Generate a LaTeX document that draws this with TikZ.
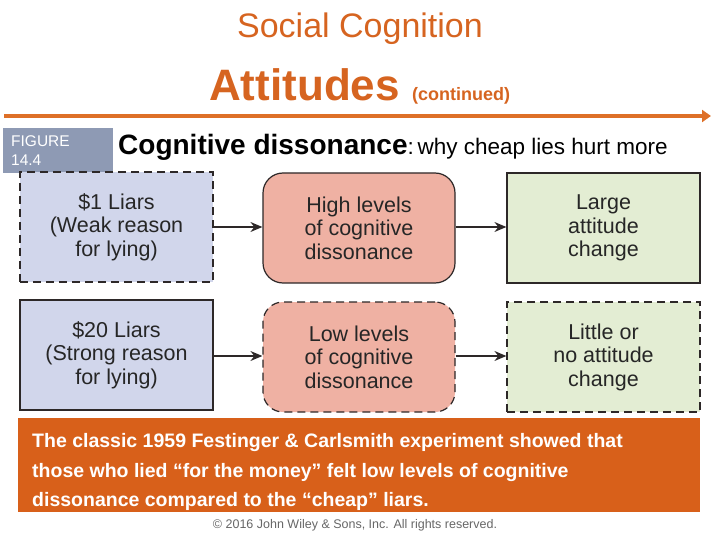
\documentclass[tikz,border=0pt]{standalone}
\usepackage{fontspec}
\setmainfont{Liberation Sans}
\usetikzlibrary{arrows.meta}
\definecolor{ttlorange}{RGB}{214,100,32}
\definecolor{barorange}{RGB}{222,112,40}
\definecolor{boxorange}{RGB}{216,96,26}
\definecolor{lav}{RGB}{209,214,235}
\definecolor{salmon}{RGB}{239,177,163}
\definecolor{lgreen}{RGB}{227,237,211}
\definecolor{figgray}{RGB}{142,154,180}
\definecolor{edge}{RGB}{45,40,40}
\tikzset{
  card/.style={draw=edge, line width=1.2pt, minimum width=193pt, minimum height=110pt,
    inner sep=0pt, align=center, font=\fontsize{21.5}{23.5}\selectfont, text=black!85},
  dashy/.style={dash pattern=on 8pt off 5pt},
  conn/.style={draw=edge, line width=1.2pt, -{Stealth[length=12pt,width=10pt,inset=4pt]}},
  notetext/.style={text=white, anchor=base west, inner sep=0pt, font=\fontsize{19.5}{24}\bfseries},
}
\begin{document}
\begin{tikzpicture}[x=1pt,y=-1pt]
\useasboundingbox (0,0) rectangle (720,540);
% titles
\node[text=ttlorange, font=\fontsize{34}{36}\selectfont] (title) at (360,29) {Social Cognition};
\node[text=ttlorange, font=\fontsize{44}{48}\bfseries, anchor=base west, inner sep=0pt] (att) at (209,101) {Attitudes};
\node[text=ttlorange, font=\fontsize{18}{20}\bfseries, anchor=base west, inner sep=0pt] (cont) at (412,101) {(continued)};
\coordinate (barL) at (4,116);
\coordinate (barR) at (711,116);
\draw[barorange, line width=4pt, -{Triangle[length=9pt,width=12pt]}] (barL) -- (barR);
% figure label
\node[fill=figgray, minimum width=110pt, minimum height=45pt, inner sep=0pt, anchor=north west] (fig) at (3,128) {};
\node[text=white, font=\fontsize{15.5}{19}\selectfont, align=left, anchor=north west, inner sep=0pt] (figtxt) at (11,135) {FIGURE\\14.4};
\node[anchor=base west, inner sep=0pt, font=\fontsize{28}{32}\selectfont] (head) at (118,155)
  {\textbf{Cognitive dissonance}{\fontsize{22.5}{26}\selectfont:\,why cheap lies hurt more}};
% boxes
\node[card, dashy, fill=lav] (b1) at (116.5,227) {\$1 Liars\\(Weak reason\\for lying)};
\node[card, fill=salmon, rounded corners=20pt, minimum width=192pt] (b2) at (359,228) {High levels\\of cognitive\\dissonance};
\node[card, fill=lgreen] (b3) at (603.5,228) {Large\\attitude\\change};
\node[card, fill=lav] (b4) at (116.5,355) {\$20 Liars\\(Strong reason\\for lying)};
\node[card, dashy, fill=salmon, rounded corners=20pt, minimum width=192pt] (b5) at (359,357) {Low levels\\of cognitive\\dissonance};
\node[card, dashy, fill=lgreen] (b6) at (603.5,357) {Little or\\no attitude\\change};
\draw[conn] (b1.east |- 0,227) -- (b2.west |- 0,227);
\draw[conn] (b2.east |- 0,227) -- (b3.west |- 0,227);
\draw[conn] (b4.east |- 0,356) -- (b5.west |- 0,356);
\draw[conn] (b5.east |- 0,356) -- (b6.west |- 0,356);
% bottom note
\node[fill=boxorange, minimum width=682pt, minimum height=94pt, inner sep=0pt, anchor=north west] (note) at (18,418) {};
\node[notetext] (n1) at (32,447) {The classic 1959 Festinger \& Carlsmith experiment showed that};
\node[notetext] (n2) at (32,477) {those who lied “for the money” felt low levels of cognitive};
\node[notetext] (n3) at (32,506) {dissonance compared to the “cheap” liars.};
\node[text=black!60, font=\fontsize{12.5}{14}\selectfont] (copy) at (355,525) {© 2016 John Wiley \& Sons, Inc. All rights reserved.};
\end{tikzpicture}
\end{document}
